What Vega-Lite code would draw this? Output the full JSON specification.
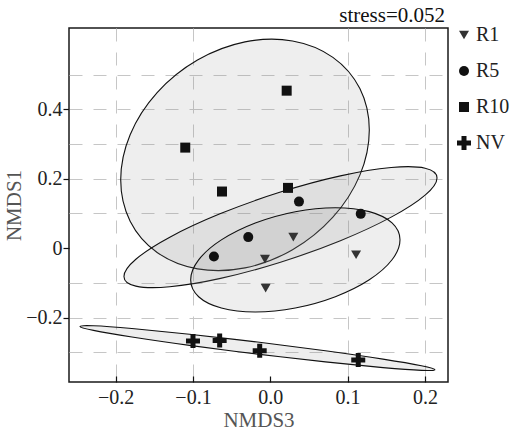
{
  "$schema": "https://vega.github.io/schema/vega-lite/v6.json",
  "autosize": "none",
  "width": 379,
  "height": 354,
  "padding": {"left": 69, "top": 28, "right": 64, "bottom": 52},
  "config": {
    "view": {"stroke": "#1a1a1a", "strokeWidth": 1.5},
    "font": "Liberation Serif"
  },
  "datasets": {
    "ellipses": [
      {"group": "R10", "i": 0, "x": 0.1281, "y": 0.3404},
      {"group": "R10", "i": 1, "x": 0.1159, "y": 0.4595},
      {"group": "R10", "i": 2, "x": 0.0810, "y": 0.5495},
      {"group": "R10", "i": 3, "x": 0.0288, "y": 0.5967},
      {"group": "R10", "i": 4, "x": -0.0327, "y": 0.5940},
      {"group": "R10", "i": 5, "x": -0.0942, "y": 0.5417},
      {"group": "R10", "i": 6, "x": -0.1464, "y": 0.4479},
      {"group": "R10", "i": 7, "x": -0.1813, "y": 0.3267},
      {"group": "R10", "i": 8, "x": -0.1935, "y": 0.1966},
      {"group": "R10", "i": 9, "x": -0.1813, "y": 0.0775},
      {"group": "R10", "i": 10, "x": -0.1464, "y": -0.0125},
      {"group": "R10", "i": 11, "x": -0.0942, "y": -0.0597},
      {"group": "R10", "i": 12, "x": -0.0327, "y": -0.0570},
      {"group": "R10", "i": 13, "x": 0.0288, "y": -0.0047},
      {"group": "R10", "i": 14, "x": 0.0810, "y": 0.0891},
      {"group": "R10", "i": 15, "x": 0.1159, "y": 0.2103},
      {"group": "R5", "i": 0, "x": 0.2157, "y": 0.2023},
      {"group": "R5", "i": 1, "x": 0.2003, "y": 0.2302},
      {"group": "R5", "i": 2, "x": 0.1564, "y": 0.2321},
      {"group": "R5", "i": 3, "x": 0.0907, "y": 0.2080},
      {"group": "R5", "i": 4, "x": 0.0132, "y": 0.1614},
      {"group": "R5", "i": 5, "x": -0.0643, "y": 0.0994},
      {"group": "R5", "i": 6, "x": -0.1300, "y": 0.0315},
      {"group": "R5", "i": 7, "x": -0.1739, "y": -0.0320},
      {"group": "R5", "i": 8, "x": -0.1893, "y": -0.0815},
      {"group": "R5", "i": 9, "x": -0.1739, "y": -0.1094},
      {"group": "R5", "i": 10, "x": -0.1300, "y": -0.1113},
      {"group": "R5", "i": 11, "x": -0.0643, "y": -0.0872},
      {"group": "R5", "i": 12, "x": 0.0132, "y": -0.0406},
      {"group": "R5", "i": 13, "x": 0.0907, "y": 0.0214},
      {"group": "R5", "i": 14, "x": 0.1564, "y": 0.0893},
      {"group": "R5", "i": 15, "x": 0.2003, "y": 0.1528},
      {"group": "R1", "i": 0, "x": 0.1678, "y": 0.0239},
      {"group": "R1", "i": 1, "x": 0.1575, "y": 0.0726},
      {"group": "R1", "i": 2, "x": 0.1281, "y": 0.1051},
      {"group": "R1", "i": 3, "x": 0.0842, "y": 0.1164},
      {"group": "R1", "i": 4, "x": 0.0324, "y": 0.1050},
      {"group": "R1", "i": 5, "x": -0.0194, "y": 0.0724},
      {"group": "R1", "i": 6, "x": -0.0633, "y": 0.0237},
      {"group": "R1", "i": 7, "x": -0.0927, "y": -0.0338},
      {"group": "R1", "i": 8, "x": -0.1030, "y": -0.0913},
      {"group": "R1", "i": 9, "x": -0.0927, "y": -0.1400},
      {"group": "R1", "i": 10, "x": -0.0633, "y": -0.1725},
      {"group": "R1", "i": 11, "x": -0.0194, "y": -0.1838},
      {"group": "R1", "i": 12, "x": 0.0324, "y": -0.1724},
      {"group": "R1", "i": 13, "x": 0.0842, "y": -0.1398},
      {"group": "R1", "i": 14, "x": 0.1281, "y": -0.0911},
      {"group": "R1", "i": 15, "x": 0.1575, "y": -0.0336},
      {"group": "NV", "i": 0, "x": 0.2130, "y": -0.3502},
      {"group": "NV", "i": 1, "x": 0.1955, "y": -0.3389},
      {"group": "NV", "i": 2, "x": 0.1458, "y": -0.3198},
      {"group": "NV", "i": 3, "x": 0.0713, "y": -0.2957},
      {"group": "NV", "i": 4, "x": -0.0166, "y": -0.2706},
      {"group": "NV", "i": 5, "x": -0.1045, "y": -0.2481},
      {"group": "NV", "i": 6, "x": -0.1790, "y": -0.2316},
      {"group": "NV", "i": 7, "x": -0.2287, "y": -0.2237},
      {"group": "NV", "i": 8, "x": -0.2462, "y": -0.2256},
      {"group": "NV", "i": 9, "x": -0.2287, "y": -0.2369},
      {"group": "NV", "i": 10, "x": -0.1790, "y": -0.2560},
      {"group": "NV", "i": 11, "x": -0.1045, "y": -0.2801},
      {"group": "NV", "i": 12, "x": -0.0166, "y": -0.3052},
      {"group": "NV", "i": 13, "x": 0.0713, "y": -0.3277},
      {"group": "NV", "i": 14, "x": 0.1458, "y": -0.3442},
      {"group": "NV", "i": 15, "x": 0.1955, "y": -0.3521}
    ],
    "points": [
      {"group": "R1", "x": 0.0298, "y": 0.0317},
      {"group": "R1", "x": -0.0069, "y": -0.0317},
      {"group": "R1", "x": -0.006, "y": -0.115},
      {"group": "R1", "x": 0.111, "y": -0.019},
      {"group": "R5", "x": 0.0371, "y": 0.134},
      {"group": "R5", "x": 0.117, "y": 0.0987},
      {"group": "R5", "x": -0.0285, "y": 0.0317},
      {"group": "R5", "x": -0.0729, "y": -0.024},
      {"group": "R10", "x": 0.0212, "y": 0.4535},
      {"group": "R10", "x": -0.110, "y": 0.2895},
      {"group": "R10", "x": -0.0625, "y": 0.163},
      {"group": "R10", "x": 0.0229, "y": 0.1735},
      {"group": "NV", "x": -0.100, "y": -0.2676},
      {"group": "NV", "x": -0.0655, "y": -0.266},
      {"group": "NV", "x": -0.0137, "y": -0.2955},
      {"group": "NV", "x": 0.1138, "y": -0.3223}
    ],
    "notes": [
      {"label": "stress=0.052"}
    ]
  },
  "layer": [
    {
      "data": {"name": "ellipses"},
      "mark": {"type": "line", "interpolate": "cardinal-closed", "fill": "#8a8a8a", "fillOpacity": 0.15, "stroke": "#111", "strokeWidth": 1.1},
      "encoding": {
        "x": {"field": "x", "type": "quantitative", "scale": {"domain": [-0.2604, 0.2299], "nice": false, "zero": false},
          "axis": {"orient": "bottom", "values": [-0.2, -0.1, 0.1, 0.2], "grid": true, "gridDash": [13, 11], "gridColor": "#c6c6c6", "gridWidth": 1, "labels": false, "ticks": false, "domain": false, "title": null}},
        "y": {"field": "y", "type": "quantitative", "scale": {"domain": [-0.3856, 0.634], "nice": false, "zero": false},
          "axis": {"orient": "left", "values": [-0.3, -0.2, -0.1, 0.1, 0.2, 0.3, 0.4, 0.5], "grid": true, "gridDash": [13, 11], "gridColor": "#c6c6c6", "gridWidth": 1, "labels": false, "ticks": false, "domain": false, "title": null}},
        "detail": {"field": "group", "type": "nominal"},
        "order": {"field": "i", "type": "quantitative"}
      }
    },
    {
      "mark": {"type": "rule", "color": "#8c8c8c", "strokeWidth": 1},
      "encoding": {
        "x": {"datum": 0, "type": "quantitative", "scale": {"domain": [-0.2604, 0.2299], "nice": false, "zero": false}, "axis": null}
      }
    },
    {
      "mark": {"type": "rule", "color": "#8c8c8c", "strokeWidth": 1},
      "encoding": {
        "y": {"datum": 0, "type": "quantitative", "scale": {"domain": [-0.3856, 0.634], "nice": false, "zero": false}, "axis": null}
      }
    },
    {
      "data": {"name": "notes"},
      "mark": {"type": "text", "align": "right", "baseline": "alphabetic", "dx": -3, "dy": -6, "fontSize": 21, "font": "Liberation Serif", "color": "#111"},
      "encoding": {
        "x": {"datum": 0.2299, "type": "quantitative", "scale": {"domain": [-0.2604, 0.2299], "nice": false, "zero": false}, "axis": null},
        "y": {"datum": 0.634, "type": "quantitative", "scale": {"domain": [-0.3856, 0.634], "nice": false, "zero": false}, "axis": null},
        "text": {"field": "label", "type": "nominal"}
      }
    },
    {
      "data": {"name": "points"},
      "mark": {"type": "point", "filled": true, "size": 100, "opacity": 1},
      "encoding": {
        "x": {"field": "x", "type": "quantitative", "scale": {"domain": [-0.2604, 0.2299], "nice": false, "zero": false},
          "axis": {"orient": "bottom", "values": [-0.2, -0.1, 0, 0.1, 0.2], "format": ".1f", "grid": false, "domain": false, "ticks": true, "tickSize": -6, "tickColor": "#111", "tickWidth": 1.2, "labelPadding": 11, "labelFontSize": 20, "labelFont": "Liberation Serif", "labelColor": "#222", "labelFlush": false, "title": "NMDS3", "titleFont": "Liberation Serif", "titleFontSize": 21, "titleFontWeight": "normal", "titleColor": "#555", "titlePadding": 2}},
        "y": {"field": "y", "type": "quantitative", "scale": {"domain": [-0.3856, 0.634], "nice": false, "zero": false},
          "axis": {"orient": "left", "values": [-0.2, 0, 0.2, 0.4], "labelExpr": "datum.value == 0 ? '0' : format(datum.value, '.1f')", "grid": false, "domain": false, "ticks": true, "tickSize": 6, "tickColor": "#111", "tickWidth": 1.2, "labelPadding": 1, "labelFontSize": 20, "labelFont": "Liberation Serif", "labelColor": "#222", "labelFlush": false, "title": "NMDS1", "titleFont": "Liberation Serif", "titleFontSize": 21, "titleFontWeight": "normal", "titleColor": "#555", "titlePadding": 1}},
        "shape": {"field": "group", "type": "nominal",
          "scale": {"domain": ["R1", "R5", "R10", "NV"], "range": ["triangle-down", "circle", "square", "M-1.4,-0.5H-0.5V-1.4H0.5V-0.5H1.4V0.5H0.5V1.4H-0.5V0.5H-1.4Z"]},
          "legend": {"title": null, "orient": "none", "legendX": 385, "legendY": -3, "padding": 0, "rowPadding": 16, "labelFontSize": 20, "labelFont": "Liberation Serif", "labelColor": "#222", "labelOffset": 2, "symbolSize": 100, "symbolStrokeWidth": 0}},
        "color": {"field": "group", "type": "nominal",
          "scale": {"domain": ["R1", "R5", "R10", "NV"], "range": ["#333333", "#111111", "#111111", "#111111"]},
          "legend": {"title": null, "orient": "none", "legendX": 385, "legendY": -3, "padding": 0, "rowPadding": 16, "labelFontSize": 20, "labelFont": "Liberation Serif", "labelColor": "#222", "labelOffset": 2, "symbolSize": 100, "symbolStrokeWidth": 0}}
      }
    }
  ],
  "resolve": {"axis": {"x": "independent", "y": "independent"}}
}
